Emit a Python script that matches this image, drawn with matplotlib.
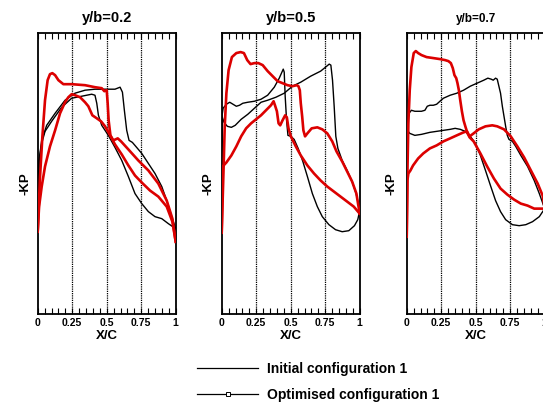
# plot.py
# Chordwise -KP distributions at three span stations,
# initial vs optimised configuration.

import matplotlib
matplotlib.use("Agg")
import matplotlib.pyplot as plt
from matplotlib.lines import Line2D
from matplotlib.ticker import MultipleLocator

plt.rcParams["font.family"] = ["Liberation Sans", "DejaVu Sans"]
plt.rcParams["font.weight"] = "bold"

# ---------------------------------------------------------------------------
# Data
# ---------------------------------------------------------------------------

stations = ["y/b=0.2", "y/b=0.5", "y/b=0.7"]
xtick_vals = [0, 0.25, 0.5, 0.75, 1]
xtick_labels = ["0", "0.25", "0.5", "0.75", "1"]
legend_labels = ["Initial configuration 1", "Optimised configuration 1"]

# --- y/b = 0.2 ---
init_a_x_02 = [0, 0.01, 0.029, 0.065, 0.126, 0.198, 0.27, 0.343, 0.415, 0.488,
               0.56, 0.597, 0.614, 0.628, 0.645, 0.662, 0.686, 0.717, 0.754,
               0.802, 0.85, 0.899, 0.935, 0.971, 1.0]
init_a_y_02 = [-0.37, 0.33, 0.53, 0.68, 0.80, 0.93, 1.0, 1.03, 1.04, 1.04,
               1.04, 1.06, 1.01, 0.83, 0.63, 0.53, 0.51, 0.46, 0.40,
               0.30, 0.20, 0.07, -0.07, -0.23, -0.35]
init_b_x_02 = [0, 0.01, 0.029, 0.053, 0.101, 0.174, 0.246, 0.319, 0.391, 0.415,
               0.428, 0.44, 0.464, 0.488, 0.512, 0.56, 0.609, 0.657, 0.705,
               0.754, 0.802, 0.85, 0.899, 0.947, 1.0]
init_b_y_02 = [-0.37, 0.33, 0.50, 0.62, 0.72, 0.86, 0.95, 0.97, 0.99, 0.98,
               0.90, 0.78, 0.68, 0.63, 0.58, 0.46, 0.33, 0.17, 0.0,
               -0.10, -0.18, -0.23, -0.25, -0.30, -0.35]
opt_a_x_02 = [0, 0.017, 0.034, 0.053, 0.072, 0.089, 0.106, 0.126, 0.150, 0.186,
              0.246, 0.343, 0.415, 0.464, 0.483, 0.500, 0.507, 0.514, 0.527,
              0.548, 0.580, 0.604, 0.657, 0.729, 0.802, 0.874, 0.935, 0.976, 1.0]
opt_a_y_02 = [-0.38, 0.17, 0.57, 0.93, 1.13, 1.19, 1.20, 1.18, 1.13, 1.09,
              1.09, 1.08, 1.06, 1.05, 1.02, 1.03, 0.90, 0.73, 0.58,
              0.53, 0.55, 0.52, 0.44, 0.33, 0.23, 0.10, -0.07, -0.25, -0.48]
opt_b_x_02 = [0, 0.010, 0.029, 0.053, 0.089, 0.126, 0.162, 0.198, 0.222, 0.246,
              0.271, 0.307, 0.343, 0.367, 0.396, 0.428, 0.459, 0.488, 0.517,
              0.560, 0.609, 0.657, 0.705, 0.754, 0.814, 0.874, 0.935, 0.976, 1.0]
opt_b_y_02 = [-0.38, -0.13, 0.07, 0.27, 0.47, 0.63, 0.80, 0.91, 0.96, 0.99,
              0.98, 0.96, 0.91, 0.87, 0.78, 0.75, 0.72, 0.67, 0.60,
              0.49, 0.39, 0.28, 0.18, 0.11, 0.03, -0.03, -0.13, -0.28, -0.48]

# --- y/b = 0.5 ---
init_a_x_05 = [0, 0.002, 0.010, 0.034, 0.058, 0.082, 0.106, 0.129, 0.153, 0.189,
               0.237, 0.285, 0.333, 0.381, 0.417, 0.446, 0.453, 0.460, 0.470,
               0.480, 0.501, 0.525, 0.554, 0.588, 0.621, 0.657, 0.693, 0.729,
               0.777, 0.825, 0.873, 0.921, 0.962, 0.986, 1.0]
init_a_y_05 = [-0.39, 0.77, 0.85, 0.89, 0.91, 0.89, 0.87, 0.88, 0.90, 0.91,
               0.92, 0.94, 0.98, 1.06, 1.15, 1.24, 1.21, 0.97, 0.73,
               0.58, 0.57, 0.54, 0.45, 0.32, 0.17, 0.0, -0.13, -0.23,
               -0.31, -0.36, -0.38, -0.37, -0.32, -0.26, -0.17]
init_b_x_05 = [0, 0.002, 0.017, 0.041, 0.070, 0.098, 0.141, 0.189, 0.237, 0.285,
               0.333, 0.393, 0.453, 0.513, 0.573, 0.645, 0.717, 0.753, 0.779,
               0.791, 0.803, 0.815, 0.827, 0.842, 0.873, 0.909, 0.945, 0.974,
               0.990, 1.0]
init_b_y_05 = [-0.39, 0.77, 0.71, 0.67, 0.66, 0.68, 0.74, 0.79, 0.85, 0.91,
               0.93, 0.96, 1.00, 1.07, 1.11, 1.17, 1.22, 1.26, 1.29,
               1.28, 1.13, 0.87, 0.57, 0.45, 0.33, 0.23, 0.12, 0.0,
               -0.10, -0.17]
opt_a_x_05 = [0, 0.007, 0.014, 0.022, 0.034, 0.050, 0.074, 0.106, 0.137, 0.161,
              0.185, 0.209, 0.237, 0.266, 0.297, 0.333, 0.369, 0.405, 0.441,
              0.477, 0.513, 0.544, 0.556, 0.566, 0.573, 0.583, 0.592, 0.604,
              0.621, 0.652, 0.693, 0.729, 0.765, 0.801, 0.832, 0.873, 0.909,
              0.945, 0.976, 1.0]
opt_a_y_05 = [-0.39, -0.06, 0.27, 0.67, 1.00, 1.23, 1.36, 1.40, 1.41, 1.40,
              1.33, 1.29, 1.30, 1.30, 1.28, 1.22, 1.17, 1.12, 1.10,
              1.08, 1.07, 1.08, 1.07, 1.03, 0.90, 0.77, 0.63, 0.57,
              0.60, 0.65, 0.66, 0.64, 0.60, 0.52, 0.42, 0.32, 0.22,
              0.12, 0.0, -0.20]
opt_b_x_05 = [0, 0.005, 0.007, 0.034, 0.070, 0.106, 0.141, 0.177, 0.213, 0.249,
              0.285, 0.321, 0.357, 0.376, 0.386, 0.400, 0.412, 0.424, 0.441,
              0.460, 0.472, 0.484, 0.501, 0.537, 0.573, 0.621, 0.669, 0.717,
              0.765, 0.813, 0.861, 0.909, 0.957, 1.0]
opt_b_y_05 = [-0.39, 0.03, 0.27, 0.31, 0.38, 0.47, 0.57, 0.65, 0.70, 0.74,
              0.78, 0.83, 0.88, 0.92, 0.88, 0.82, 0.70, 0.68, 0.73,
              0.78, 0.76, 0.65, 0.57, 0.47, 0.38, 0.28, 0.20, 0.13,
              0.07, 0.02, -0.03, -0.08, -0.13, -0.20]

# --- y/b = 0.7 ---
init_a_x_07 = [0, 0.005, 0.017, 0.034, 0.059, 0.083, 0.107, 0.132, 0.149, 0.168,
               0.193, 0.217, 0.241, 0.266, 0.315, 0.363, 0.412, 0.461, 0.510,
               0.559, 0.588, 0.612, 0.627, 0.644, 0.656, 0.668, 0.680, 0.693,
               0.705, 0.717, 0.729, 0.741, 0.754, 0.766, 0.790, 0.827, 0.876,
               0.924, 0.961, 1.0]
init_a_y_07 = [-0.43, 0.73, 0.80, 0.83, 0.82, 0.82, 0.82, 0.83, 0.87, 0.88,
               0.88, 0.89, 0.92, 0.95, 0.98, 1.00, 1.03, 1.07, 1.10,
               1.13, 1.15, 1.14, 1.13, 1.15, 1.14, 1.07, 1.00, 0.87,
               0.77, 0.67, 0.58, 0.54, 0.53, 0.52, 0.47, 0.38, 0.27,
               0.13, 0.0, -0.15]
init_b_x_07 = [0, 0.005, 0.022, 0.059, 0.107, 0.168, 0.217, 0.266, 0.315, 0.351,
               0.388, 0.424, 0.461, 0.498, 0.534, 0.571, 0.607, 0.644, 0.680,
               0.717, 0.766, 0.815, 0.863, 0.912, 0.961, 1.0]
init_b_y_07 = [-0.43, 0.63, 0.60, 0.58, 0.59, 0.61, 0.62, 0.63, 0.64, 0.65,
               0.64, 0.62, 0.57, 0.50, 0.38, 0.23, 0.08, -0.07, -0.18,
               -0.26, -0.31, -0.32, -0.31, -0.28, -0.23, -0.15]
opt_a_x_07 = [0, 0.005, 0.012, 0.022, 0.034, 0.051, 0.066, 0.083, 0.107, 0.144,
              0.193, 0.241, 0.278, 0.302, 0.320, 0.334, 0.346, 0.359, 0.368,
              0.378, 0.388, 0.400, 0.412, 0.427, 0.441, 0.456, 0.485, 0.534,
              0.583, 0.632, 0.680, 0.729, 0.778, 0.827, 0.876, 0.924, 0.973, 1.0]
opt_a_y_07 = [-0.43, 0.20, 0.70, 1.03, 1.26, 1.40, 1.42, 1.40, 1.38, 1.36,
              1.35, 1.34, 1.33, 1.32, 1.30, 1.25, 1.18, 1.15, 1.10,
              1.03, 0.93, 0.82, 0.73, 0.66, 0.60, 0.56, 0.52, 0.40,
              0.27, 0.15, 0.05, -0.01, -0.06, -0.10, -0.12, -0.15, -0.15, -0.15]
opt_b_x_07 = [0, 0.005, 0.012, 0.027, 0.046, 0.083, 0.120, 0.168, 0.217, 0.266,
              0.315, 0.363, 0.412, 0.437, 0.456, 0.485, 0.522, 0.571, 0.620,
              0.656, 0.705, 0.754, 0.802, 0.851, 0.900, 0.949, 0.985, 1.0]
opt_b_y_07 = [-0.43, 0.13, 0.20, 0.23, 0.28, 0.35, 0.40, 0.45, 0.48, 0.52,
              0.55, 0.58, 0.61, 0.62, 0.57, 0.60, 0.64, 0.67, 0.68,
              0.67, 0.64, 0.57, 0.47, 0.36, 0.23, 0.10, -0.02, -0.15]

initial = [
    [(init_a_x_02, init_a_y_02), (init_b_x_02, init_b_y_02)],
    [(init_a_x_05, init_a_y_05), (init_b_x_05, init_b_y_05)],
    [(init_a_x_07, init_a_y_07), (init_b_x_07, init_b_y_07)],
]
optimised = [
    [(opt_a_x_02, opt_a_y_02), (opt_b_x_02, opt_b_y_02)],
    [(opt_a_x_05, opt_a_y_05), (opt_b_x_05, opt_b_y_05)],
    [(opt_a_x_07, opt_a_y_07), (opt_b_x_07, opt_b_y_07)],
]

# ---------------------------------------------------------------------------
# Figure
# ---------------------------------------------------------------------------

RED = "#dc0000"
W, H = 543, 403

fig = plt.figure(figsize=(W / 100, H / 100), dpi=100)

lefts = [37.7, 221.7, 406.7]        # axes left edges in pixels
title_sizes = [10.5, 10.5, 8.5]
ylabel_x = [-0.045, -0.05, -0.065]

for i, left in enumerate(lefts):
    ax = fig.add_axes([left / W, (H - 314) / H, 138 / W, 281 / H])

    for xs, ys in initial[i]:
        ax.plot(xs, ys, color="black", lw=1.0, zorder=3)
    for xs, ys in optimised[i]:
        ax.plot(xs, ys, color=RED, lw=1.9, zorder=4,
                solid_joinstyle="round")

    ax.set_xlim(0, 1)
    ax.set_ylim(-1.2, 1.6)

    # dotted vertical grid at the inner major ticks
    for gx in xtick_vals[1:-1]:
        ax.axvline(gx, color="black", ls=(0, (1, 0.8)), lw=0.9, zorder=1)

    ax.set_xticks(xtick_vals, xtick_labels)
    ax.xaxis.set_minor_locator(MultipleLocator(0.05))
    ax.tick_params(axis="x", which="both", direction="in", top=True,
                   length=4, width=0.8, labelsize=7.5, pad=3)
    ax.tick_params(axis="y", left=False, labelleft=False)
    for lab in ax.get_xticklabels():
        lab.set_fontweight("bold")

    for sp in ax.spines.values():
        sp.set_linewidth(1.3)

    ax.set_title(stations[i], fontsize=title_sizes[i], fontweight="bold",
                 pad=8)
    ax.set_xlabel("X/C", fontsize=9.5, fontweight="bold", labelpad=1)
    ax.set_ylabel("-KP", fontsize=9.5, fontweight="bold")
    ax.yaxis.set_label_coords(ylabel_x[i], 0.463)

# legend: black lines, the optimised one with a hollow square marker
handles = [
    Line2D([], [], color="black", lw=0.9),
    Line2D([], [], color="black", lw=0.9, marker="s", markersize=3.5,
           markerfacecolor="white", markeredgecolor="black",
           markeredgewidth=0.7),
]
fig.legend(handles, legend_labels, loc="center left",
           bbox_to_anchor=(197 / W, (H - 382) / H), frameon=False,
           borderpad=0, borderaxespad=0, handlelength=4.4,
           handletextpad=0.65, labelspacing=0.85,
           prop={"size": 10, "weight": "bold"})

fig.savefig("out.png", dpi=100)
plt.close(fig)
